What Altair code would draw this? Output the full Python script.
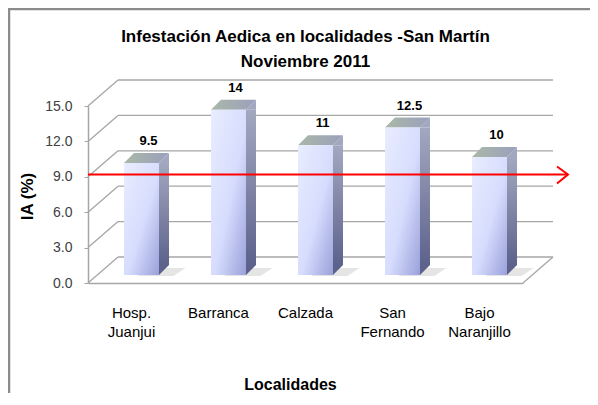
import altair as alt
import pandas as pd

# ---- data ----
categories = ["Hosp. Juanjui", "Barranca", "Calzada", "San Fernando", "Bajo Naranjillo"]
values = [9.5, 14, 11, 12.5, 10]
y_ticks = [0, 3, 6, 9, 12, 15]
reference_value = 9.2  # red arrow

bars = pd.DataFrame({"loc": categories, "ia": values})
ticks = pd.DataFrame({"t": y_ticks})

W, H = 435, 177
DEPTH_X, DEPTH_Y = 30, -26     # back wall offset (pixels)
BAR_DX, BAR_DY = 10, -8        # bar depth position (pixels)
GRID = "#a6a6a6"
FONT = "Liberation Sans"

xs = alt.Scale(domain=categories, paddingInner=0, paddingOuter=0)
ys = alt.Scale(domain=[0, 15], nice=False)

y_axis = alt.Axis(title="IA (%)", titleFontSize=17, titleFontWeight="bold",
                  titleAngle=270, titleX=-56, titleY=90, titleAlign="center",
                  titleBaseline="alphabetic", titleColor="#000000",
                  values=y_ticks, format=".1f", labelFontSize=14, labelOverlap=False,
                  labelColor="#404040", labelPadding=12, tickSize=4,
                  tickColor=GRID, domainColor=GRID, domainWidth=1.5, grid=False)

X = alt.X("loc:N", scale=xs, sort=categories,
          axis=alt.Axis(title="Localidades", titleFontSize=16, titleFontWeight="bold",
                        titleX=202, titleY=106, titleAlign="center", titleBaseline="alphabetic",
                        titleColor="#000000",
                        labelExpr="split(datum.label, ' ')", labelAngle=0,
                        labelFontSize=15, labelColor="#000000", labelLineHeight=19,
                        labelPadding=22, ticks=False, tickSize=0,
                        domainColor=GRID, domainWidth=1.5))
Y = alt.Y("ia:Q", scale=ys, axis=y_axis)
YT = alt.Y("t:Q", scale=ys, axis=y_axis)
Y0 = alt.YDatum(0, scale=ys, axis=y_axis)
YREF = alt.YDatum(reference_value, scale=ys, axis=y_axis)

# 3D wall: diagonals on the left wall and back-wall gridlines
diag = alt.Chart(ticks).mark_rule(color=GRID, strokeWidth=1.3, y2Offset=DEPTH_Y).encode(
    x=alt.value(0), x2=alt.value(DEPTH_X), y=YT, y2="t:Q")
back = alt.Chart(ticks).mark_rule(color=GRID, strokeWidth=1.3, yOffset=DEPTH_Y).encode(
    x=alt.value(DEPTH_X), x2=alt.value(W + DEPTH_X), y=YT)
floor_edge = alt.Chart(ticks).transform_filter("datum.t == 0").mark_rule(
    color=GRID, strokeWidth=1.3, y2Offset=DEPTH_Y).encode(
    x=alt.value(W), x2=alt.value(W + DEPTH_X), y=YT, y2="t:Q")

front_grad = alt.LinearGradient(gradient="linear", x1=0, y1=0, x2=1, y2=1, stops=[
    alt.GradientStop(color="#e9edff", offset=0),
    alt.GradientStop(color="#d6dcfd", offset=0.55),
    alt.GradientStop(color="#9aa1da", offset=1)])
side_grad = alt.LinearGradient(gradient="linear", x1=0, y1=0, x2=0, y2=1, stops=[
    alt.GradientStop(color="#a3a8c0", offset=0),
    alt.GradientStop(color="#5d628c", offset=1)])
top_grad = alt.LinearGradient(gradient="linear", x1=0, y1=0, x2=1, y2=0, stops=[
    alt.GradientStop(color="#aab8a6", offset=0),
    alt.GradientStop(color="#9aa0bd", offset=1)])

base = alt.Chart(bars)

shadow = base.mark_point(shape="M-12,0L24,0L36,-8L-2,-8Z", size=4, filled=True,
                         opacity=0.22, fill="#8a8a8a", strokeWidth=0,
                         xOffset=BAR_DX + 8, yOffset=BAR_DY + 1).encode(x=X, y=Y0)
side_mid = base.mark_bar(fill=side_grad, size=10, xOffset=BAR_DX + 17.5 + 5,
                         yOffset=BAR_DY, y2Offset=BAR_DY - 10).encode(
    x=X, y=Y, y2=alt.datum(0))
side_top = base.mark_point(shape="M0,0L10,-10L10,0Z", size=4, filled=True, opacity=1,
                           fill="#a3a8c0", strokeWidth=0,
                           xOffset=BAR_DX + 17.5, yOffset=BAR_DY).encode(x=X, y=Y)
side_bot = base.mark_point(shape="M0,-10L10,-10L0,0Z", size=4, filled=True, opacity=1,
                           fill="#5d628c", strokeWidth=0,
                           xOffset=BAR_DX + 17.5, yOffset=BAR_DY).encode(x=X, y=Y0)
top_face = base.mark_point(shape="M-17.5,0L17.5,0L27.5,-10L-7.5,-10Z", size=4, filled=True,
                           opacity=1, fill=top_grad, strokeWidth=0,
                           xOffset=BAR_DX, yOffset=BAR_DY).encode(x=X, y=Y)
front = base.mark_bar(fill=front_grad, size=35, xOffset=BAR_DX,
                      yOffset=BAR_DY, y2Offset=BAR_DY).encode(x=X, y=Y, y2=alt.datum(0))
labels = base.mark_text(fontWeight="bold", fontSize=13, color="#000000", baseline="alphabetic",
                        xOffset=17, yOffset=BAR_DY - 18).encode(
    x=X, y=Y, text=alt.Text("ia:Q", format=".1~f"))

red = alt.Chart(ticks).transform_filter("datum.t == 0").mark_rule(
    color="#ff0000", strokeWidth=2).encode(
    x=alt.value(0), x2=alt.value(480), y=YREF)
arrow = alt.Chart(ticks).transform_filter("datum.t == 0").mark_point(
    shape="M-11,-8L0,0L-11,9", size=4, filled=False, opacity=1,
    stroke="#ff0000", strokeWidth=2).encode(x=alt.value(480), y=YREF)

border_top = alt.Chart(ticks).transform_filter("datum.t == 0").mark_rule(
    color="#8c8c8c", strokeWidth=2.5).encode(
    x=alt.value(-80), x2=alt.value(W + 67), y=alt.value(-97))
border_left = alt.Chart(ticks).transform_filter("datum.t == 0").mark_rule(
    color="#8c8c8c", strokeWidth=2.5).encode(
    x=alt.value(-79), y=alt.value(-97), y2=alt.value(H + 110))

chart = alt.layer(
    border_top, border_left, diag, back, floor_edge, shadow,
    side_mid, side_top, side_bot, top_face, front, labels, red, arrow
).properties(
    width=W, height=H,
    title=alt.TitleParams(
        text=["Infestación Aedica en localidades -San Martín", "Noviembre  2011"],
        fontSize=17, fontWeight="bold", color="#000000", anchor="middle", frame="group",
        lineHeight=25, font=FONT, dy=67),
    autosize=alt.AutoSizeParams(type="none"),
    padding={"left": 80, "top": 98, "right": 67, "bottom": 110},
).configure(font=FONT).configure_view(stroke=None)

chart.save("out.html", embed_options={"renderer": "svg", "actions": False})
